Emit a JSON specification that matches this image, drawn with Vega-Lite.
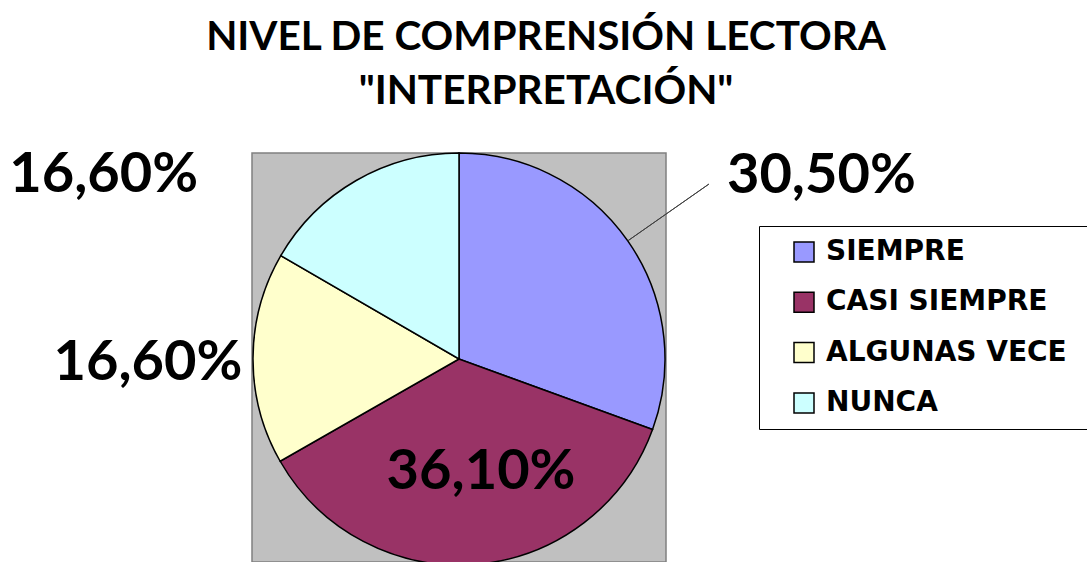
{
  "$schema": "https://vega.github.io/schema/vega-lite/v6.json",
  "width": 414,
  "height": 409,
  "autosize": "none",
  "padding": {"left": 252, "top": 153, "right": 421, "bottom": 0},
  "background": "white",
  "view": {"fill": "#C0C0C0", "stroke": "#808080", "strokeWidth": 1.5},
  "title": {
    "text": ["NIVEL DE COMPRENSIÓN LECTORA", "\"INTERPRETACIÓN\""],
    "font": "Lato",
    "fontSize": 40.5,
    "fontWeight": "bold",
    "lineHeight": 54,
    "color": "black",
    "anchor": "middle",
    "frame": "group",
    "baseline": "bottom",
    "offset": -102.5,
    "dx": 87
  },
  "data": {
    "values": [
      {"categoria": "SIEMPRE", "porcentaje": 30.5, "etiqueta": "30,50%", "orden": 1},
      {"categoria": "CASI SIEMPRE", "porcentaje": 36.1, "etiqueta": "36,10%", "orden": 2},
      {"categoria": "ALGUNAS VECE", "porcentaje": 16.6, "etiqueta": "16,60%", "orden": 3},
      {"categoria": "NUNCA", "porcentaje": 16.6, "etiqueta": "16,60%", "orden": 4}
    ]
  },
  "encoding": {
    "theta": {"field": "porcentaje", "type": "quantitative", "stack": true},
    "order": {"field": "orden", "type": "quantitative", "sort": "ascending"}
  },
  "layer": [
    {
      "mark": {"type": "arc", "radius": 206, "stroke": "black", "strokeWidth": 1.5, "yOffset": 1.5},
      "encoding": {
        "color": {
          "field": "categoria",
          "type": "nominal",
          "sort": ["SIEMPRE", "CASI SIEMPRE", "ALGUNAS VECE", "NUNCA"],
          "scale": {
            "domain": ["SIEMPRE", "CASI SIEMPRE", "ALGUNAS VECE", "NUNCA"],
            "range": ["#9999FF", "#993366", "#FFFFCC", "#CCFFFF"]
          },
          "legend": {
            "orient": "none",
            "legendX": 507,
            "legendY": 73,
            "title": "MMMMMMMMMM",
            "titleOrient": "right",
            "titleOpacity": 0,
            "titleFontSize": 20,
            "titleLimit": 0,
            "titlePadding": 0,
            "strokeColor": "black",
            "fillColor": "white",
            "padding": 12,
            "symbolType": "square",
            "symbolSize": 400,
            "symbolStrokeColor": "black",
            "symbolStrokeWidth": 1.5,
            "symbolOffset": 19,
            "labelFont": "DejaVu Sans",
            "labelFontWeight": "bold",
            "labelFontSize": 28,
            "labelColor": "black",
            "labelOffset": 8,
            "labelLimit": 0,
            "rowPadding": 22.3
          }
        }
      }
    },
    {
      "mark": {"type": "arc", "radius": 305, "radius2": 206, "padAngle": 3.14, "fill": null, "strokeWidth": 1, "yOffset": 1.5},
      "encoding": {
        "stroke": {"condition": {"test": "datum.categoria === 'SIEMPRE'", "value": "#404040"}, "value": null}
      }
    },
    {
      "mark": {"type": "text", "radius": 330, "dx": 92, "dy": 24.5, "font": "Lato", "fontWeight": "bold", "fontSize": 56, "align": "center", "baseline": "alphabetic", "color": "black"},
      "encoding": {
        "text": {"condition": {"test": "datum.categoria === 'SIEMPRE'", "field": "etiqueta"}, "value": ""}
      }
    },
    {
      "mark": {"type": "text", "radius": 130, "dx": 11, "dy": 1.5, "font": "Lato", "fontWeight": "bold", "fontSize": 56, "align": "center", "baseline": "alphabetic", "color": "black"},
      "encoding": {
        "text": {"condition": {"test": "datum.categoria === 'CASI SIEMPRE'", "field": "etiqueta"}, "value": ""}
      }
    },
    {
      "mark": {"type": "text", "radius": 311, "dx": 0, "dy": 23.5, "font": "Lato", "fontWeight": "bold", "fontSize": 56, "align": "center", "baseline": "alphabetic", "color": "black"},
      "encoding": {
        "text": {"condition": {"test": "datum.categoria === 'ALGUNAS VECE'", "field": "etiqueta"}, "value": ""}
      }
    },
    {
      "mark": {"type": "text", "radius": 215, "dx": -248, "dy": 20.5, "font": "Lato", "fontWeight": "bold", "fontSize": 56, "align": "center", "baseline": "alphabetic", "color": "black"},
      "encoding": {
        "text": {"condition": {"test": "datum.categoria === 'NUNCA'", "field": "etiqueta"}, "value": ""}
      }
    }
  ]
}
